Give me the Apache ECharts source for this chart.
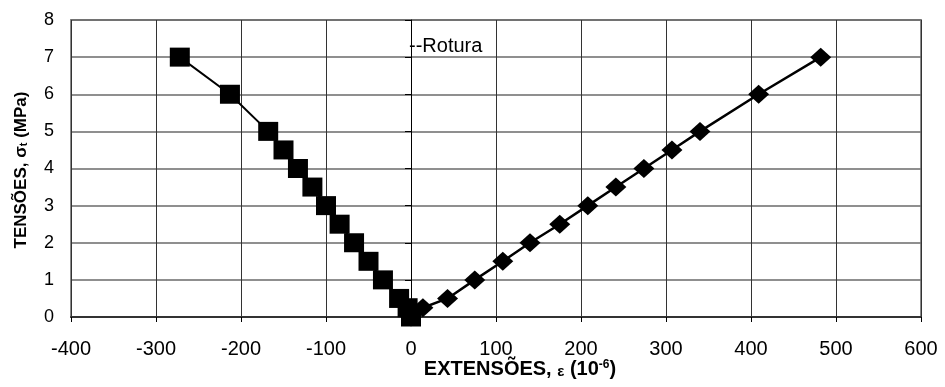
<!DOCTYPE html>
<html>
<head>
<meta charset="utf-8">
<script src="https://cdn.jsdelivr.net/npm/echarts@6/dist/echarts.min.js"></script>
<style>
html,body{margin:0;padding:0;background:#fff;}
#c{width:945px;height:387px;}
</style>
</head>
<body>
<div id="c"></div>
<script>
// Compression branch (squares)
var leftX = [-272, -213, -168, -150, -133, -116, -100, -84, -67, -50, -33, -14, -4, 0];
var leftY = [7, 6, 5, 4.5, 4, 3.5, 3, 2.5, 2, 1.5, 1, 0.5, 0.25, 0];
// Tension branch (diamonds)
var rightX = [0, 14, 43, 75, 108, 140, 175, 208, 241, 274, 307, 340, 409, 482];
var rightY = [0, 0.25, 0.5, 1, 1.5, 2, 2.5, 3, 3.5, 4, 4.5, 5, 6, 7];
var xTicks = [-400, -300, -200, -100, 0, 100, 200, 300, 400, 500, 600];
var yTicks = [0, 1, 2, 3, 4, 5, 6, 7, 8];
var annotation = '--Rotura';

function pairs(xs, ys) { return xs.map(function (x, i) { return [x, ys[i]]; }); }

var chart = echarts.init(document.getElementById('c'), null, { renderer: 'canvas' });
var FONT = '"Liberation Sans", Arial, sans-serif';
chart.setOption({
  animation: false,
  backgroundColor: '#fff',
  grid: { left: 71, right: 24, top: 20, bottom: 70, show: true, borderColor: '#8a8a8a', borderWidth: 2, backgroundColor: '#fff' },
  xAxis: {
    type: 'value', min: xTicks[0], max: xTicks[xTicks.length - 1], interval: 100,
    axisLine: { show: true, onZero: false, lineStyle: { color: '#333', width: 2 } },
    axisTick: { show: true, inside: false, length: 5, lineStyle: { color: '#000' } },
    axisLabel: { color: '#000', fontSize: 20, fontFamily: FONT, margin: 22 },
    splitLine: { show: true, lineStyle: { color: '#333', width: 1 } }
  },
  yAxis: {
    type: 'value', min: yTicks[0], max: yTicks[yTicks.length - 1], interval: 1,
    axisLine: { show: true, onZero: true, lineStyle: { color: '#000', width: 1 } },
    axisTick: { show: true, inside: false, length: 6, lineStyle: { color: '#000' } },
    axisLabel: { color: '#000', fontSize: 18, fontFamily: FONT, margin: 17 },
    splitLine: { show: true, lineStyle: { color: '#6a6a6a', width: 1.5 } }
  },
  graphic: [
    {
      type: 'text', x: 409, y: 46, z: 100,
      style: { text: annotation, fill: '#000', font: '20px ' + FONT, textAlign: 'left', textVerticalAlign: 'middle' }
    },
    {
      type: 'text', x: 21, y: 170, rotation: Math.PI / 2, z: 100,
      style: {
        text: 'TENSÕES, σ{sub|t} (MPa)',
        fill: '#000', font: 'bold 17px ' + FONT, textAlign: 'center', textVerticalAlign: 'middle',
        rich: { sub: { fontSize: 11, fontWeight: 'bold', fontFamily: FONT, verticalAlign: 'bottom', padding: [6, 0, 0, 0] } }
      }
    },
    {
      type: 'text', x: 520, y: 369, z: 100,
      style: {
        text: 'EXTENSÕES, {e|ε} (10{sup|-6})',
        fill: '#000', font: 'bold 20px ' + FONT, textAlign: 'center', textVerticalAlign: 'middle',
        rich: {
          e: { fontSize: 15, fontWeight: 'bold', fontFamily: FONT, verticalAlign: 'bottom' },
          sup: { fontSize: 12, fontWeight: 'bold', fontFamily: FONT, verticalAlign: 'top', padding: [0, 0, 8, 0] }
        }
      }
    }
  ],
  series: [
    {
      type: 'line', data: pairs(leftX, leftY), symbol: 'rect', symbolSize: [20, 19],
      lineStyle: { color: '#000', width: 2 }, itemStyle: { color: '#000' }, z: 5
    },
    {
      type: 'line', data: pairs(rightX, rightY), symbol: 'diamond', symbolSize: [21, 19],
      lineStyle: { color: '#000', width: 2.5 }, itemStyle: { color: '#000' }, z: 6
    }
  ]
});
</script>
</body>
</html>
